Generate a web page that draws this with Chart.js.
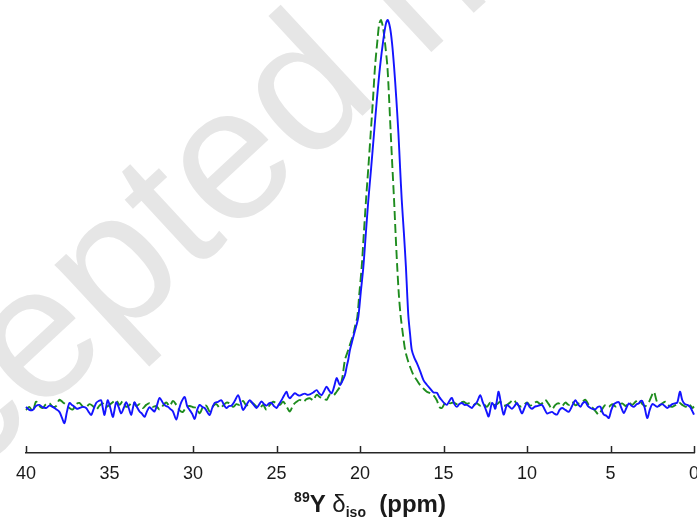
<!DOCTYPE html>
<html><head><meta charset="utf-8">
<script src="https://cdn.jsdelivr.net/npm/chart.js@4"></script>
<style>html,body{margin:0;padding:0;background:#fff;}#wrap{width:697px;height:530px;position:relative;}</style>
</head><body><div id="wrap"><canvas id="c"></canvas></div>
<script>
// 89Y chemical shift (ppm) and normalised intensity, solid blue trace
const blueShift = [
 40.0,39.8,39.6,39.4,39.2,39.0,38.8,38.6,38.4,38.2,
 38.0,37.85,37.7,37.55,37.4,37.25,37.1,36.95,36.8,36.6,
 36.4,36.25,36.1,35.95,35.8,35.65,35.5,35.4,35.3,35.2,
 35.1,34.95,34.8,34.7,34.6,34.45,34.3,34.15,34.0,33.85,
 33.7,33.6,33.5,33.35,33.2,33.05,32.9,32.75,32.6,32.45,
 32.3,32.15,32.0,31.8,31.65,31.5,31.35,31.2,31.0,30.85,
 30.7,30.5,30.35,30.2,30.05,29.9,29.75,29.6,29.45,29.3,
 29.15,29.0,28.85,28.7,28.5,28.3,28.15,28.0,27.85,27.7,
 27.5,27.3,27.15,27.0,26.8,26.6,26.4,26.2,26.05,25.9,
 25.75,25.6,25.45,25.3,25.15,25.0,24.85,24.7,24.55,24.4,
 24.3,24.2,24.05,23.9,23.75,23.6,23.45,23.3,23.15,23.0,
 22.8,22.6,22.45,22.3,22.15,22.0,21.85,21.7,21.55,21.4,
 21.3,21.2,21.05,20.9,20.8,20.7,20.6,20.45,20.3,20.2,
 20.1,19.95,19.8,19.65,19.5,19.33,19.16,19.0,18.8,18.6,
 18.45,18.34,18.2,18.08,17.96,17.83,17.7,17.6,17.5,17.37,
 17.25,17.17,17.1,17.0,16.9,16.75,16.6,16.4,16.2,16.0,
 15.8,15.6,15.4,15.25,15.1,14.95,14.8,14.65,14.5,14.35,
 14.2,14.05,13.9,13.75,13.6,13.45,13.3,13.15,13.0,12.8,
 12.65,12.5,12.4,12.3,12.2,12.1,12.0,11.9,11.8,11.7,
 11.55,11.4,11.3,11.2,11.05,10.9,10.75,10.6,10.45,10.3,
 10.15,10.0,9.85,9.7,9.55,9.4,9.25,9.1,8.95,8.8,
 8.65,8.5,8.35,8.2,8.05,7.9,7.7,7.5,7.3,7.1,
 6.95,6.8,6.65,6.5,6.35,6.2,6.05,5.9,5.75,5.6,
 5.5,5.4,5.25,5.1,4.95,4.8,4.65,4.5,4.35,4.2,
 4.05,3.9,3.75,3.6,3.45,3.3,3.2,3.1,2.95,2.8,
 2.65,2.5,2.35,2.2,2.05,1.9,1.75,1.6,1.45,1.3,
 1.15,1.0,0.84,0.7,0.54,0.4,0.24,0.1,0.0
];
const blueIntensity = [
 0.3,-0.5,-0.5,0.5,0.8,0.2,0,0.6,0.3,-0.3,
 -1.0,-2.5,-3.9,-1.0,1.3,0.8,0.3,-0.2,0,0.3,
 0,-1.0,-1.8,-0.3,1.3,1.8,2.0,0,-1.8,0.3,
 2.0,0,-2.3,-0.5,1.5,0.2,-1.4,0,1.5,0,
 -1.8,0,1.5,0.2,-0.9,-1.5,-2.3,-0.8,0.2,-0.4,
 -0.9,0.8,2.6,1.3,0.6,0.3,-0.3,-0.9,-3.0,-0.5,
 1.5,2.8,0.5,-0.5,-1.5,-2.8,-0.5,0.8,0.3,0,
 -1.0,-1.8,0,1.3,1.6,2.0,0.8,0,0.5,0.6,
 1.8,3.3,1.5,-0.5,0.8,2.0,1.0,0,0.8,1.7,
 1.0,0.6,1.2,1.3,0.5,0,1.0,2.0,3.2,4.2,
 3.0,2.5,3.2,3.8,3.4,3.2,3.5,3.7,3.4,3.5,
 4.0,4.6,3.8,3.3,4.4,5.5,4.5,3.8,5.5,7.7,
 6.8,5.9,7.0,8.5,10.6,12.5,15.0,17.5,20.0,21.5,
 23.5,30.0,36.3,45.0,53.6,62.0,70.8,79.0,88.0,95.0,
 99.0,100,98.0,94.0,88.0,80.0,70.8,62.0,53.6,45.0,
 36.3,29.0,23.5,19.0,15.0,13.0,11.6,9.5,7.2,6.0,
 5.0,4.0,3.9,2.8,2.0,1.2,0.8,1.8,2.6,1.0,
 0.3,1.0,1.3,0.8,0.8,0.4,0,0.8,1.5,3.3,
 1.5,0,-1.2,-2.2,-0.5,1.3,0.8,-0.2,2.0,4.2,
 1.0,-1.7,-0.5,0.8,0.3,-0.2,0.5,1.3,0,-1.4,
 0,1.3,0.3,-0.2,0.3,0.5,0.7,0.8,-0.3,-1.4,
 -1.2,-1.0,-1.5,-1.7,-0.5,0,-0.5,-1.0,0.5,2.0,
 1.0,0.3,1.3,1.5,0.5,0,-0.3,-0.3,0.3,0.3,
 -0.9,-1.7,-2.0,-2.6,-0.5,1.0,1.4,1.5,0,-1.3,
 0,1.2,0.6,0.3,0.9,1.2,1.8,1.8,0,-2.6,
 -0.5,1.0,0.7,0.3,0.8,1.0,0.5,0,0.5,1.0,
 1.2,1.4,4.2,2.0,1.0,0.8,0.3,-0.8,-1.7
];
// dashed green trace
const greenShift = [
 40.0,39.8,39.6,39.4,39.2,39.0,38.8,38.6,38.4,38.2,
 38.0,37.8,37.6,37.4,37.2,37.0,36.8,36.6,36.4,36.2,
 36.0,35.8,35.6,35.4,35.2,35.0,34.8,34.6,34.4,34.2,
 34.0,33.8,33.6,33.4,33.2,33.0,32.8,32.6,32.4,32.2,
 32.0,31.8,31.6,31.4,31.2,31.0,30.8,30.6,30.4,30.2,
 30.0,29.8,29.6,29.4,29.2,29.0,28.8,28.6,28.4,28.2,
 28.0,27.8,27.6,27.4,27.2,27.0,26.8,26.6,26.4,26.2,
 26.0,25.8,25.6,25.4,25.2,25.0,24.8,24.6,24.4,24.2,
 24.0,23.8,23.6,23.4,23.2,23.0,22.8,22.6,22.4,22.2,
 22.0,21.8,21.6,21.4,21.2,21.05,20.9,20.7,20.55,20.4,
 20.3,20.16,20.05,19.9,19.77,19.64,19.5,19.36,19.23,19.1,
 18.95,18.85,18.75,18.62,18.5,18.36,18.26,18.16,18.06,17.96,
 17.87,17.77,17.67,17.56,17.43,17.3,17.15,17.0,16.8,16.6,
 16.4,16.2,16.0,15.8,15.6,15.4,15.25,15.1,14.95,14.8,
 14.6,14.4,14.2,14.0,13.8,13.6,13.4,13.2,13.0,12.8,
 12.6,12.4,12.2,12.0,11.8,11.6,11.4,11.2,11.0,10.8,
 10.6,10.4,10.2,10.0,9.8,9.6,9.4,9.2,9.0,8.9,
 8.7,8.5,8.3,8.1,7.9,7.7,7.5,7.3,7.1,6.9,
 6.7,6.5,6.3,6.1,5.9,5.7,5.5,5.3,5.1,4.9,
 4.7,4.5,4.3,4.1,3.9,3.7,3.5,3.3,3.1,2.9,
 2.7,2.55,2.4,2.25,2.1,1.9,1.7,1.5,1.3,1.1,
 0.9,0.7,0.5,0.3,0.1,0.0
];
const greenIntensity = [
 -0.5,0.3,-0.9,1.6,0.5,0,1.0,1.2,0.3,0.5,
 2.1,1.5,0.8,0,-0.4,1.0,1.3,0.4,0.2,1.0,
 0.5,-0.4,0.6,1.2,0.3,0.8,1.5,2.0,0.8,1.8,
 0.3,0.8,1.6,0.5,1.0,0,0.8,1.2,0.3,0.5,
 -0.4,0.6,1.4,0.5,1.8,0.8,-0.6,-1.0,0.3,0.5,
 0.2,0,-1.4,0.3,0.6,-0.9,0.5,1.0,0,0.6,
 1.4,1.2,0.3,1.0,0.8,1.8,0.6,1.6,1.2,0.4,
 0,0.8,-0.5,0.8,1.6,1.2,0.8,1.6,0.4,-0.9,
 0.8,1.6,2.1,1.6,2.3,2.5,2.0,3.4,2.8,2.5,
 2.1,3.5,3.2,4.2,5.5,8.0,12.4,15.0,17.0,19.0,
 21.0,23.5,29.0,36.3,45.0,53.6,62.0,70.8,79.0,88.0,
 95.0,99.0,100,98.0,94.0,88.0,80.0,70.8,62.0,53.6,
 45.0,36.3,29.0,23.5,19.0,15.0,12.5,10.6,8.5,7.2,
 5.9,5.0,4.2,3.8,3.3,2.0,0.3,0,1.0,1.5,
 1.2,1.4,1.0,1.3,1.6,1.1,1.3,0.8,1.2,0.6,
 1.0,0.3,1.4,0.8,1.0,1.6,0.6,0.8,1.5,2.1,
 1.0,0.4,0.8,1.4,0.6,1.2,1.6,1.0,1.5,2.1,
 1.0,-0.3,0.8,1.2,0.5,1.4,0.8,1.6,0.7,1.2,
 1.6,2.1,0.8,0.2,-0.8,-1.7,-0.3,0.8,0.3,1.0,
 0.4,0.8,1.2,0.5,1.4,0.8,1.6,2.1,1.0,0.5,
 1.5,3.0,4.2,2.0,0.5,1.2,1.6,0.6,0.3,0.8,
 1.4,0.8,0.3,1.0,0,0.4
];
const tickValues = [40,35,30,25,20,15,10,5,0];
const watermarkText = 'Accepted manuscript';

const FONT = "'Liberation Sans', Arial, Helvetica, sans-serif";

const watermark = {
  id: 'watermark',
  beforeDraw(chart) {
    const ctx = chart.ctx;
    ctx.save();
    ctx.translate(-195, 632);
    ctx.rotate(-42.8 * Math.PI / 180);
    ctx.font = '189px ' + FONT;
    ctx.fillStyle = '#e6e6e6';
    ctx.textBaseline = 'alphabetic';
    ctx.fillText(watermarkText, 0, 0);
    ctx.restore();
  }
};

const innerTicks = {
  id: 'innerTicks',
  afterDraw(chart) {
    const ctx = chart.ctx, xs = chart.scales.x, b = chart.chartArea.bottom;
    ctx.save();
    ctx.strokeStyle = '#262626';
    ctx.lineWidth = 1.5;
    tickValues.forEach(v => {
      const px = Math.round(xs.getPixelForValue(v)) + 0.5;
      ctx.beginPath(); ctx.moveTo(px, b); ctx.lineTo(px, b - 7); ctx.stroke();
    });
    ctx.restore();
  }
};

const axisTitle = {
  id: 'axisTitle',
  afterDraw(chart) {
    const ctx = chart.ctx;
    const parts = [
      {t:'89', f:'bold 14px ' + FONT, dy:-10},
      {t:'Y ', f:'bold 24px ' + FONT, dy:0},
      {t:'\u03B4', f:'24px ' + FONT, dy:0},
      {t:'iso', f:'bold 14px ' + FONT, dy:5},
      {t:'  (ppm)', f:'bold 24px ' + FONT, dy:0}
    ];
    ctx.save();
    let total = 0;
    parts.forEach(p => { ctx.font = p.f; p.w = ctx.measureText(p.t).width; total += p.w; });
    let x = 370 - total / 2;
    const base = 512;
    ctx.fillStyle = '#1a1a1a';
    ctx.textBaseline = 'alphabetic';
    parts.forEach(p => { ctx.font = p.f; ctx.fillText(p.t, x, base + p.dy); x += p.w; });
    ctx.restore();
  }
};

const toPoints = (xs, ys) => xs.map((x, i) => ({x: x, y: ys[i]}));

new Chart(document.getElementById('c'), {
  type: 'line',
  data: {
    datasets: [
      { label: 'blue', data: toPoints(blueShift, blueIntensity), borderColor: '#1414ff', borderWidth: 1.9,
        pointRadius: 0, tension: 0.3, fill: false, clip: false },
      { label: 'green', data: toPoints(greenShift, greenIntensity), borderColor: '#1e8c1e', borderWidth: 1.9,
        borderDash: [9, 4], pointRadius: 0, tension: 0.3, fill: false, clip: false }
    ]
  },
  options: {
    responsive: true, maintainAspectRatio: false, animation: false, devicePixelRatio: 1,
    layout: { padding: { left: 26, right: 3, top: 20, bottom: 0 } },
    plugins: { legend: { display: false }, tooltip: { enabled: false }, title: { display: false } },
    scales: {
      x: {
        type: 'linear', reverse: true, min: 0, max: 40, position: 'bottom',
        afterBuildTicks: s => { s.ticks = tickValues.map(v => ({value: v})); },
        afterFit: s => { s.height = 77; s.paddingLeft = 0; s.paddingRight = 0; },
        grid: { display: false, drawTicks: false },
        border: { display: true, color: '#262626', width: 1.5 },
        ticks: { padding: 10, color: '#1a1a1a', font: { family: FONT, size: 18 }, maxRotation: 0, autoSkip: false }
      },
      y: { display: false, min: -11.6, max: 100 }
    }
  },
  plugins: [watermark, innerTicks, axisTitle]
});
</script>
</body></html>
